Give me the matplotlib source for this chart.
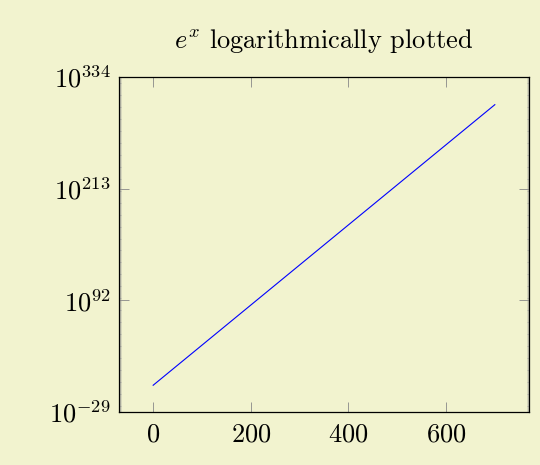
import numpy as np
import matplotlib.pyplot as plt
from matplotlib.ticker import FixedLocator

plt.rcParams['font.family'] = 'serif'
plt.rcParams['font.serif'] = ['cmr10', 'DejaVu Serif']
plt.rcParams['mathtext.fontset'] = 'cm'
plt.rcParams['axes.unicode_minus'] = False
plt.rcParams['axes.formatter.use_mathtext'] = True

# 資料: x 與 log10(e^x) 的指數值
x_vals = [0, 700]
y_exp = [0.0, 304.0]          # log10(e^700) ≈ 304
y_ticks = [-29, 92, 213, 334]
x_ticks = [0, 200, 400, 600]

bg = '#f2f3cf'
fig = plt.figure(figsize=(5.4, 4.65), dpi=100, facecolor=bg)
ax = fig.add_axes([119/540, 53/465, 410/540, 335/465])
ax.set_facecolor(bg)

ax.plot(x_vals, y_exp, color='blue', lw=0.8)

ax.set_xlim(-70, 770)
ax.set_ylim(-29, 334)
ax.set_xticks(x_ticks)
ax.set_xticklabels([f'${v}$' for v in x_ticks])
ax.set_yticks(y_ticks)
ax.set_yticklabels([f'$10^{{{v}}}$' for v in y_ticks])
ax.yaxis.set_minor_locator(FixedLocator(np.arange(-29, 335)))

ax.tick_params(which='major', direction='in', length=7.5, width=0.6, color='#888888',
               top=True, right=True, labelsize=19)
ax.tick_params(axis='x', which='major', pad=8)
ax.tick_params(axis='y', which='major', pad=6)
ax.tick_params(which='minor', axis='y', direction='in', length=1.5, width=0.4,
               color='#999999', left=True, right=True)
for s in ax.spines.values():
    s.set_linewidth(0.9)

ax.set_title('$e^x$ logarithmically plotted', fontsize=19, pad=21)

fig.savefig('out.png', dpi=100, facecolor=bg)
